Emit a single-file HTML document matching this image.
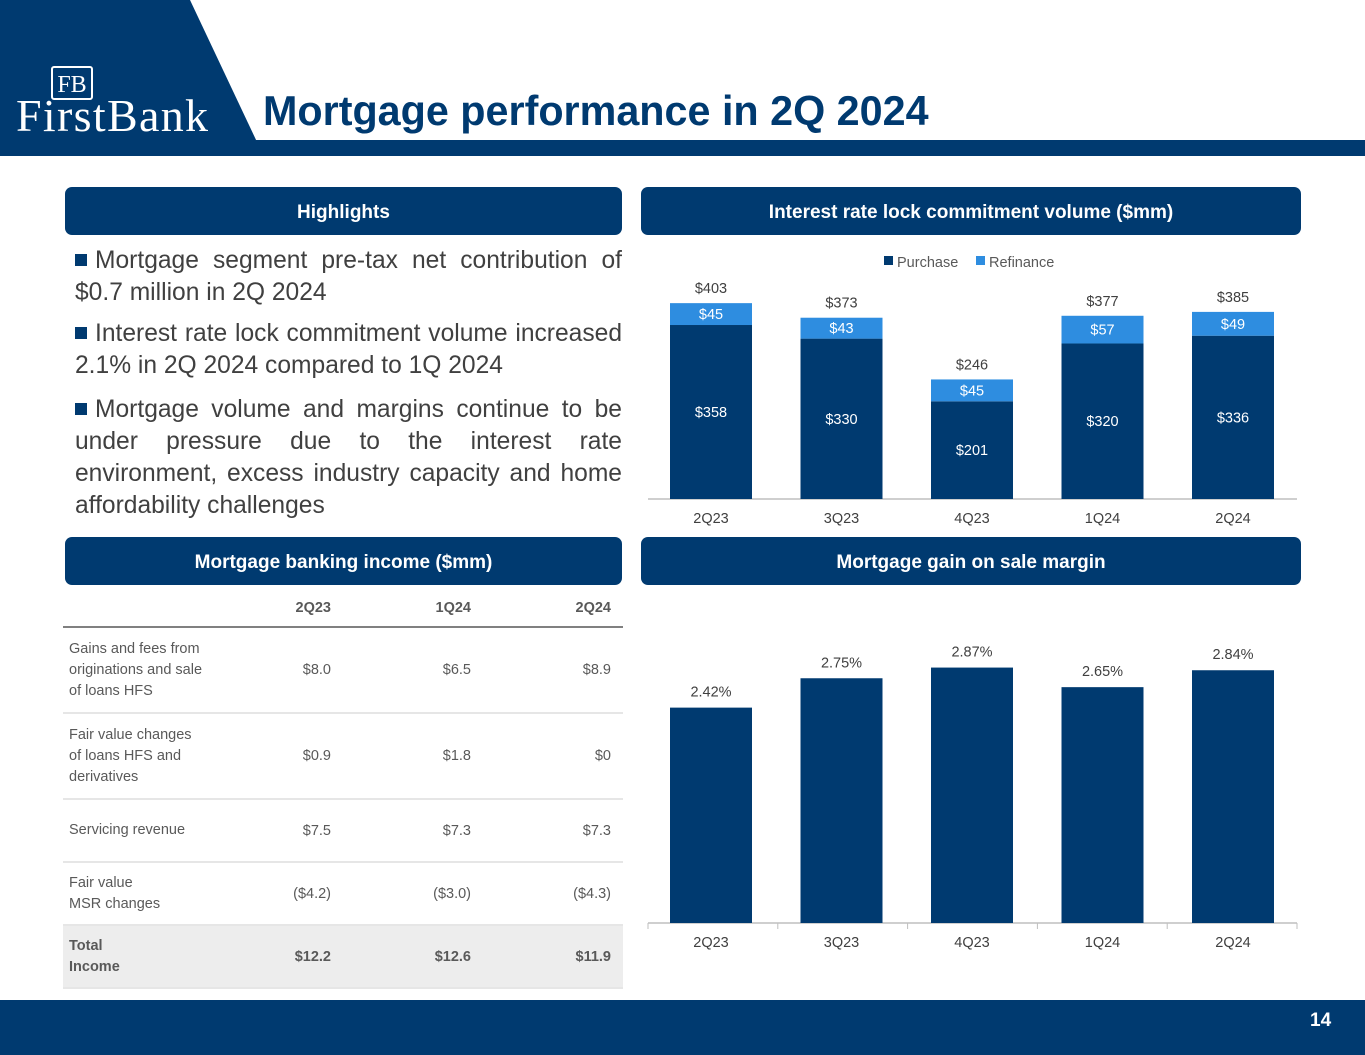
<!DOCTYPE html>
<html><head><meta charset="utf-8">
<style>
body{margin:0;width:1365px;height:1055px;position:relative;overflow:hidden;background:#fff;font-family:"Liberation Sans",Arial,sans-serif;}
.abs{position:absolute;}
.hdr{position:absolute;background:#003a70;color:#fff;font-weight:bold;font-size:19px;text-align:center;line-height:52px;border-radius:7px;height:48px;}
.bul{position:absolute;left:75px;width:547px;font-size:24.6px;color:#404040;line-height:32px;text-align:justify;}
.bul span.sq{display:inline-block;width:12px;height:12px;background:#003a70;margin-right:8px;vertical-align:2px;}
table{position:absolute;left:63px;top:590px;width:560px;border-collapse:collapse;font-size:14.5px;color:#595959;table-layout:fixed;}
td{padding:0 12px 0 6px;text-align:right;border-bottom:2px solid #e6e6e6;white-space:nowrap;}
td:first-child{text-align:left;line-height:21px;}
</style></head><body>
<svg class="abs" style="left:0;top:0" width="1365" height="160">
<polygon points="0,0 190,0 257,142 0,142" fill="#003a70"/>
<rect x="0" y="140" width="1365" height="16" fill="#003a70"/>
<rect x="52" y="67" width="40" height="32" fill="none" stroke="#fff" stroke-width="2" rx="2"/>
<text x="72" y="92" fill="#fff" font-family="Liberation Serif" font-size="24" text-anchor="middle">FB</text>
<text x="16" y="131" fill="#fff" font-family="Liberation Serif" font-size="46" textLength="192">FirstBank</text>
<text x="263" y="125" fill="#003a70" font-weight="bold" font-size="41.3">Mortgage performance in 2Q 2024</text>
</svg>
<div class="hdr" style="left:65px;top:187px;width:557px">Highlights</div>
<div class="hdr" style="left:641px;top:187px;width:660px">Interest rate lock commitment volume ($mm)</div>
<div class="hdr" style="left:65px;top:537px;width:557px">Mortgage banking income ($mm)</div>
<div class="hdr" style="left:641px;top:537px;width:660px">Mortgage gain on sale margin</div>
<div class="bul" style="top:245px"><span class="sq"></span>Mortgage segment pre-tax net contribution of $0.7 million in 2Q 2024</div>
<div class="bul" style="top:318px"><span class="sq"></span>Interest rate lock commitment volume increased 2.1% in 2Q 2024 compared to 1Q 2024</div>
<div class="bul" style="top:394px"><span class="sq"></span>Mortgage volume and margins continue to be under pressure due to the interest rate environment, excess industry capacity and home affordability challenges</div>
<table>
<colgroup><col style="width:200px"><col style="width:80px"><col style="width:140px"><col style="width:140px"></colgroup>
<tr style="height:37px;font-weight:bold"><td style="border-bottom:2px solid #808080"></td><td style="border-bottom:2px solid #808080">2Q23</td><td style="border-bottom:2px solid #808080">1Q24</td><td style="border-bottom:2px solid #808080">2Q24</td></tr>
<tr style="height:86px"><td>Gains and fees from<br>originations and sale<br>of loans HFS</td><td>$8.0</td><td>$6.5</td><td>$8.9</td></tr>
<tr style="height:86px"><td>Fair value changes<br>of loans HFS and<br>derivatives</td><td>$0.9</td><td>$1.8</td><td>$0</td></tr>
<tr style="height:63px"><td>Servicing revenue</td><td>$7.5</td><td>$7.3</td><td>$7.3</td></tr>
<tr style="height:63px"><td>Fair value<br>MSR changes</td><td>($4.2)</td><td>($3.0)</td><td>($4.3)</td></tr>
<tr style="height:63px;background:#ededed;font-weight:bold"><td>Total<br>Income</td><td>$12.2</td><td>$12.6</td><td>$11.9</td></tr>
</table>
<svg id="c1" class="abs" style="left:0;top:0" width="1365" height="1055"></svg>
<div class="abs" style="left:0;top:1000px;width:1365px;height:55px;background:#003a70"></div>
<div class="abs" style="left:1310px;top:1010px;color:#fff;font-weight:bold;font-size:19px">14</div>
<script>
const cats=["2Q23","3Q23","4Q23","1Q24","2Q24"];
const purchase=[358,330,201,320,336];
const refinance=[45,43,45,57,49];
const totals=[403,373,246,377,385];
const margins=[2.42,2.75,2.87,2.65,2.84];
const svg=document.getElementById('c1');
const NS="http://www.w3.org/2000/svg";
function mk(t,a,txt){const e=document.createElementNS(NS,t);for(const k in a)e.setAttribute(k,a[k]);if(txt!=null)e.textContent=txt;svg.appendChild(e);return e;}
const xc=i=>711+i*130.5;
const y1=v=>499-v*0.486;
const y2=v=>923-v*89;
let l=mk('line',{x1:648,x2:1297,y1:499,y2:499,stroke:'#bfbfbf','stroke-width':1.5});


l=mk('line',{x1:648,x2:1297,y1:923,y2:923,stroke:'#bfbfbf','stroke-width':1.5});


for(let i=0;i<=5;i++){const t=mk('line',{x1:648+i*129.8,x2:648+i*129.8,y1:923,y2:929,stroke:'#bfbfbf'});

}
let r=mk('rect',{x:884,y:256,width:9,height:9,fill:'#003a70'});


let t=mk('text',{x:897,y:267,'font-size':14.5,fill:'#595959'},'Purchase');


r=mk('rect',{x:976,y:256,width:9,height:9,fill:'#2e8de0'});


t=mk('text',{x:989,y:267,'font-size':14.5,fill:'#595959'},'Refinance');


cats.forEach((c,i)=>{
 const x=xc(i)-41;
 let b=mk('rect',{x:x,y:y1(purchase[i]),width:82,height:499-y1(purchase[i]),fill:'#003a70'});
 
 
 b=mk('rect',{x:x,y:y1(purchase[i]+refinance[i]),width:82,height:refinance[i]*0.486,fill:'#2e8de0'});
 
 
 let tx=mk('text',{x:xc(i),y:(y1(purchase[i])+499)/2+5,'font-size':14.5,fill:'#fff','text-anchor':'middle'},'$'+purchase[i]);
 
 
 tx=mk('text',{x:xc(i),y:y1(purchase[i]+refinance[i]/2)+5,'font-size':14.5,fill:'#fff','text-anchor':'middle'},'$'+refinance[i]);
 
 
 tx=mk('text',{x:xc(i),y:y1(totals[i])-10,'font-size':14.5,fill:'#404040','text-anchor':'middle'},'$'+totals[i]);
 
 
 tx=mk('text',{x:xc(i),y:523,'font-size':14.5,fill:'#404040','text-anchor':'middle'},c);
 
 
 b=mk('rect',{x:x,y:y2(margins[i]),width:82,height:923-y2(margins[i]),fill:'#003a70'});
 
 
 tx=mk('text',{x:xc(i),y:y2(margins[i])-11,'font-size':14.5,fill:'#404040','text-anchor':'middle'},margins[i].toFixed(2)+'%');
 
 
 tx=mk('text',{x:xc(i),y:947,'font-size':14.5,fill:'#404040','text-anchor':'middle'},c);
 
 
});
</script>
</body></html>
